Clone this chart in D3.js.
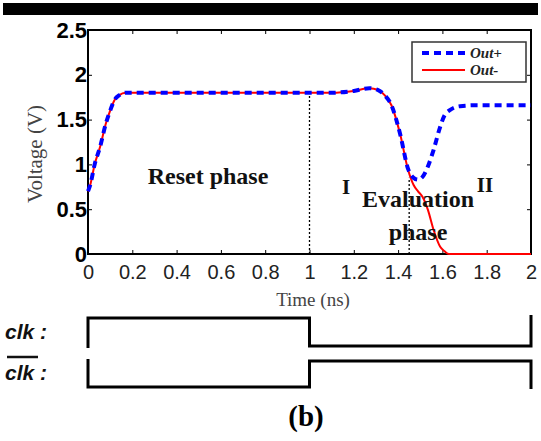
<!DOCTYPE html>
<html>
<head>
<meta charset="utf-8">
<script src="https://cdn.jsdelivr.net/npm/d3@7"></script>
<style>
  body { margin: 0; background: #fff; }
</style>
</head>
<body>
<div id="chart"></div>
<script>
// Time points (ns) shared by both outputs
const timeNs = [0, 0.01, 0.03, 0.055, 0.08, 0.1, 0.12, 0.14, 0.17, 0.2, 0.5, 1.0, 1.1, 1.2, 1.27, 1.31, 1.34, 1.37, 1.41, 1.445, 1.47, 1.49, 1.51, 1.535, 1.56, 1.59, 1.61, 1.63, 1.68, 1.75, 2.0];
// Out+ voltage (V)
const outPlus = [0.7, 0.77, 1.0, 1.2, 1.45, 1.6, 1.72, 1.77, 1.8, 1.8, 1.8, 1.8, 1.8, 1.82, 1.85, 1.83, 1.77, 1.66, 1.33, 0.95, 0.85, 0.83, 0.86, 0.98, 1.16, 1.42, 1.55, 1.6, 1.65, 1.66, 1.66];
// Out- voltage (V)
const outMinus = [0.7, 0.77, 1.0, 1.2, 1.45, 1.6, 1.72, 1.77, 1.8, 1.8, 1.8, 1.8, 1.8, 1.82, 1.85, 1.83, 1.77, 1.66, 1.33, 0.94, 0.77, 0.70, 0.64, 0.49, 0.27, 0.08, 0.03, 0, 0, 0, 0];

const seriesNames = ["Out+", "Out-"];
const xTicks = [0, 0.2, 0.4, 0.6, 0.8, 1, 1.2, 1.4, 1.6, 1.8, 2];
const yTicks = [0, 0.5, 1, 1.5, 2, 2.5];

// Phase markers: dotted lines [time, top voltage]
const markers = [[1, 1.8], [1.45, 0.85]];

// Clock edges (ns) and levels in each interval (1 = high)
const clkEdges = [0, 1, 2];
const clkLevels = [1, 0];
const clkBarLevels = [0, 1];

const W = 541, H = 441;
const svg = d3.select("#chart").append("svg")
  .attr("width", W)
  .attr("height", H)
  .style("font-family", "Liberation Serif, Times New Roman, serif");

// black header bar
svg.append("rect")
  .attr("x", 3).attr("y", 3)
  .attr("width", 535).attr("height", 12)
  .attr("fill", "#000");

// scales
const x = d3.scaleLinear().domain([0, 2]).range([88, 531]);
const y = d3.scaleLinear().domain([0, 2.5]).range([254, 30]);

// axes with inward ticks on all sides
svg.append("g")
  .attr("transform", `translate(0,${y(0)})`)
  .call(d3.axisBottom(x).tickValues(xTicks).tickSizeInner(-4).tickSizeOuter(0).tickPadding(11)
    .tickFormat(d3.format("")))
  .call(g => g.select(".domain").remove())
  .selectAll("text")
  .attr("font-family", "Liberation Sans, Arial, sans-serif")
  .attr("font-size", 20)
  .attr("fill", "#222");

svg.append("g")
  .attr("transform", `translate(0,${y(2.5)})`)
  .call(d3.axisTop(x).tickValues(xTicks).tickSizeInner(-4).tickSizeOuter(0).tickFormat(""))
  .call(g => g.select(".domain").remove());

svg.append("g")
  .attr("transform", `translate(${x(0)},0)`)
  .call(d3.axisLeft(y).tickValues(yTicks).tickSizeInner(-4).tickSizeOuter(0).tickPadding(1)
    .tickFormat(d3.format("")))
  .call(g => g.select(".domain").remove())
  .selectAll("text")
  .attr("font-family", "Liberation Sans, Arial, sans-serif")
  .attr("font-weight", "bold")
  .attr("font-size", 22)
  .attr("fill", "#000");

svg.append("g")
  .attr("transform", `translate(${x(2)},0)`)
  .call(d3.axisRight(y).tickValues(yTicks).tickSizeInner(-4).tickSizeOuter(0).tickFormat(""))
  .call(g => g.select(".domain").remove());

// plot frame
svg.append("rect")
  .attr("x", x(0)).attr("y", y(2.5))
  .attr("width", x(2) - x(0)).attr("height", y(0) - y(2.5))
  .attr("fill", "none")
  .attr("stroke", "#000")
  .attr("stroke-width", 2);

// axis labels
svg.append("text")
  .attr("transform", `translate(37,${y(1.25) + 12}) rotate(-90)`)
  .attr("text-anchor", "middle")
  .attr("dominant-baseline", "middle")
  .attr("font-size", 21)
  .attr("fill", "#444")
  .text("Voltage (V)");

svg.append("text")
  .attr("x", 313).attr("y", 306)
  .attr("text-anchor", "middle")
  .attr("font-size", 19)
  .attr("fill", "#444")
  .text("Time (ns)");

// dotted phase markers
markers.forEach(m => {
  svg.append("line")
    .attr("x1", x(m[0])).attr("x2", x(m[0]))
    .attr("y1", y(0)).attr("y2", y(m[1]))
    .attr("stroke", "#000")
    .attr("stroke-width", 1.3)
    .attr("stroke-dasharray", "2,2");
});

// lines
const line = d3.line()
  .x((d, i) => x(timeNs[i]))
  .y(d => y(d))
  .curve(d3.curveMonotoneX);

svg.append("path")
  .datum(outMinus)
  .attr("fill", "none")
  .attr("stroke", "#ff0000")
  .attr("stroke-width", 2)
  .attr("d", line);

svg.append("path")
  .datum(outPlus)
  .attr("fill", "none")
  .attr("stroke", "#0000ff")
  .attr("stroke-width", 4)
  .attr("stroke-dasharray", "7,5")
  .attr("d", line);

// annotations
const bold = (tx, ty, s, size) => svg.append("text")
  .attr("x", tx).attr("y", ty)
  .attr("text-anchor", "middle")
  .attr("font-weight", "bold")
  .attr("font-size", size)
  .attr("fill", "#111")
  .text(s);
bold(208, 184, "Reset phase", 24);
bold(346, 194, "I", 21);
bold(418, 207, "Evaluation", 24);
bold(418, 240, "phase", 24);
bold(485, 192, "II", 21);

// legend
const legend = svg.append("g");
legend.append("rect")
  .attr("x", 412).attr("y", 42)
  .attr("width", 114).attr("height", 40)
  .attr("fill", "#fff")
  .attr("stroke", "#333")
  .attr("stroke-width", 1.5);
const legendStyles = [
  {color: "#0000ff", width: 4, dash: "7,5"},
  {color: "#ff0000", width: 2, dash: null}
];
seriesNames.forEach((name, i) => {
  const ly = 53 + i * 17;
  legend.append("line")
    .attr("x1", 422).attr("x2", 465)
    .attr("y1", ly).attr("y2", ly)
    .attr("stroke", legendStyles[i].color)
    .attr("stroke-width", legendStyles[i].width)
    .attr("stroke-dasharray", legendStyles[i].dash);
  legend.append("text")
    .attr("x", 470).attr("y", ly + 5)
    .attr("font-size", 15)
    .attr("font-style", "italic")
    .attr("font-weight", "bold")
    .attr("fill", "#222")
    .text(name);
});

// clock waveforms
function clkPath(levels, hiY, loY, startTop, startBot, endTop, endBot) {
  const lev = v => v ? hiY : loY;
  const p = d3.path();
  const first = lev(levels[0]);
  // start stub
  p.moveTo(x(clkEdges[0]), first === hiY ? startBot : startTop);
  p.lineTo(x(clkEdges[0]), first);
  for (let i = 0; i < levels.length; i++) {
    p.lineTo(x(clkEdges[i + 1]), lev(levels[i]));
    if (i + 1 < levels.length) p.lineTo(x(clkEdges[i + 1]), lev(levels[i + 1]));
  }
  const last = lev(levels[levels.length - 1]);
  p.lineTo(x(clkEdges[clkEdges.length - 1]), last === hiY ? endBot : endTop);
  return p.toString();
}

svg.append("path")
  .attr("d", clkPath(clkLevels, 318, 346, 318, 348, 315, 346))
  .attr("fill", "none")
  .attr("stroke", "#000")
  .attr("stroke-width", 3);

svg.append("path")
  .attr("d", clkPath(clkBarLevels, 361, 387, 359, 387, 361, 389))
  .attr("fill", "none")
  .attr("stroke", "#000")
  .attr("stroke-width", 3);

const clkLabel = (ly, s) => svg.append("text")
  .attr("x", 5).attr("y", ly)
  .attr("font-family", "Liberation Sans, Arial, sans-serif")
  .attr("font-weight", "bold")
  .attr("font-style", "italic")
  .attr("font-size", 21)
  .attr("fill", "#111")
  .text(s);
clkLabel(339, "clk :");
clkLabel(380, "clk :");
// overline on clk bar
svg.append("line")
  .attr("x1", 7).attr("x2", 38)
  .attr("y1", 357).attr("y2", 357)
  .attr("stroke", "#111")
  .attr("stroke-width", 2.5);

// caption
svg.append("text")
  .attr("x", 306).attr("y", 426)
  .attr("text-anchor", "middle")
  .attr("font-weight", "bold")
  .attr("font-size", 29)
  .attr("fill", "#000")
  .text("(b)");
</script>
</body>
</html>
